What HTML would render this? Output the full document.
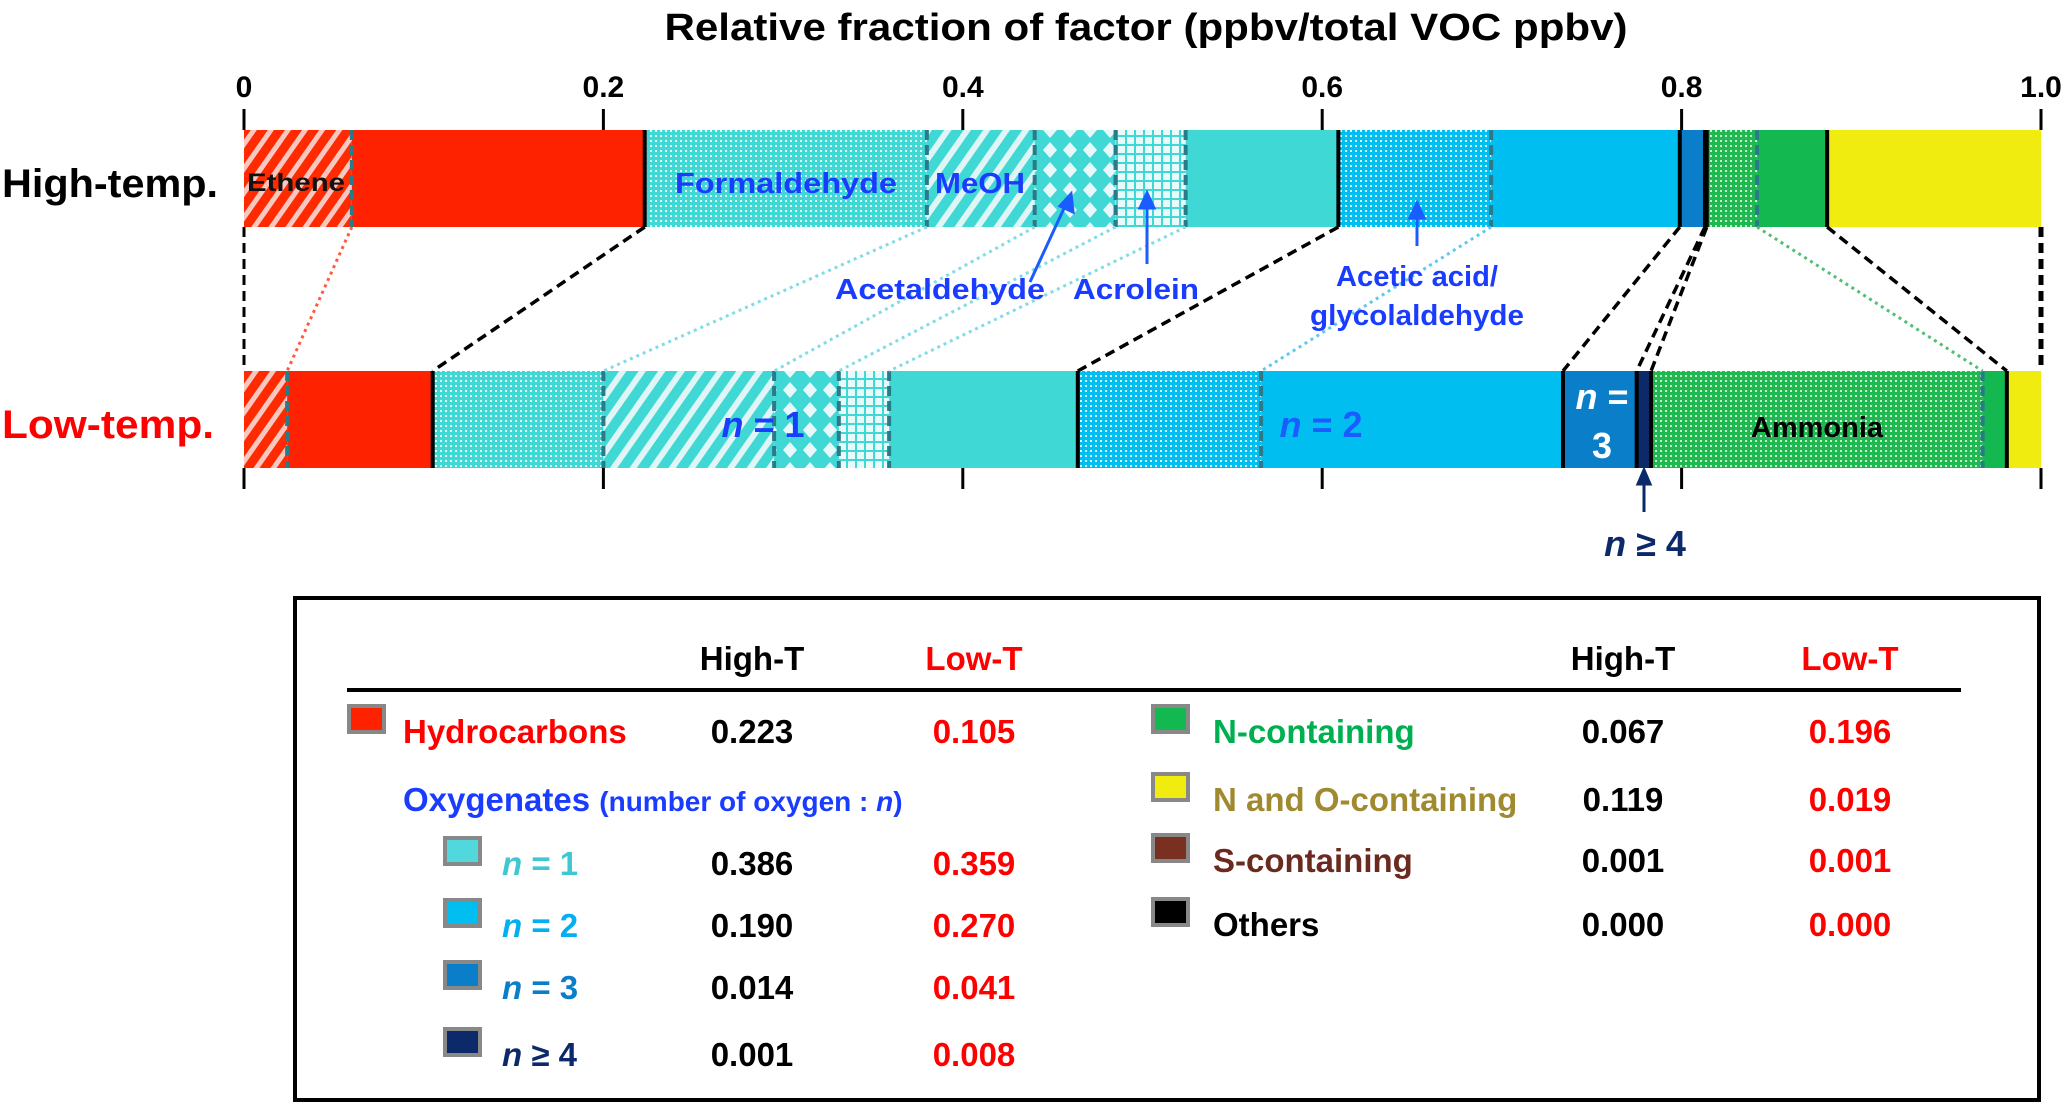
<!DOCTYPE html>
<html><head><meta charset="utf-8"><style>
html,body{margin:0;padding:0;background:#fff;}
svg{display:block;font-family:"Liberation Sans",sans-serif;font-weight:bold;}
</style></head><body>
<svg id="chart" width="2067" height="1107" viewBox="0 0 2067 1107" xmlns="http://www.w3.org/2000/svg">
<defs>
<pattern id="p-ethene" patternUnits="userSpaceOnUse" width="14" height="14" patternTransform="rotate(35)"><rect width="14" height="14" fill="#ff2a00"/><rect width="5" height="14" fill="#f8c8c0"/></pattern>
<pattern id="p-meoh" patternUnits="userSpaceOnUse" width="16" height="16" patternTransform="rotate(35)"><rect width="16" height="16" fill="#40d8d4"/><rect width="6" height="16" fill="#e0f6f6"/></pattern>
<pattern id="p-dot-teal" patternUnits="userSpaceOnUse" width="5" height="5"><rect width="5" height="5" fill="#40d8d4"/><rect width="2" height="2" fill="#e0f8f8"/></pattern>
<pattern id="p-dot-blue" patternUnits="userSpaceOnUse" width="5" height="5"><rect width="5" height="5" fill="#00bff0"/><rect width="2" height="2" fill="#d8f2fc"/></pattern>
<pattern id="p-dot-green" patternUnits="userSpaceOnUse" width="5" height="5"><rect width="5" height="5" fill="#20b850"/><rect width="2" height="2" fill="#c8f0d0"/></pattern>
<pattern id="p-diamond" patternUnits="userSpaceOnUse" width="20" height="20"><rect width="20" height="20" fill="#40d8d4"/><path d="M10 2 L17 10 L10 18 L3 10Z" fill="#e8f8fa"/></pattern>
<pattern id="p-grid" patternUnits="userSpaceOnUse" width="9" height="9"><rect width="9" height="9" fill="#e8fafa"/><rect width="9" height="2" fill="#40d8d4"/><rect width="2" height="9" fill="#40d8d4"/></pattern>
</defs>
<g id="bars"></g>
<g id="conns"></g>
<text x="1146" y="40" font-size="38" text-anchor="middle" textLength="963" lengthAdjust="spacingAndGlyphs">Relative fraction of factor (ppbv/total VOC ppbv)</text>
<text x="2" y="197" font-size="40" textLength="216" lengthAdjust="spacingAndGlyphs">High-temp.</text>
<text x="2" y="438" font-size="40" fill="#ff0000" textLength="212" lengthAdjust="spacingAndGlyphs">Low-temp.</text>
<text x="247" y="191" font-size="25" fill="#111" textLength="98" lengthAdjust="spacingAndGlyphs">Ethene</text>
<g fill="#1a3cff" font-size="29">
<text x="786" y="193" text-anchor="middle" textLength="222" lengthAdjust="spacingAndGlyphs">Formaldehyde</text>
<text x="980" y="193" text-anchor="middle" textLength="90" lengthAdjust="spacingAndGlyphs">MeOH</text>
<text x="940" y="299" text-anchor="middle" textLength="210" lengthAdjust="spacingAndGlyphs">Acetaldehyde</text>
<text x="1136" y="299" text-anchor="middle" textLength="126" lengthAdjust="spacingAndGlyphs">Acrolein</text>
<text x="1417" y="286" text-anchor="middle" textLength="162" lengthAdjust="spacingAndGlyphs">Acetic acid/</text>
<text x="1417" y="325" text-anchor="middle" textLength="214" lengthAdjust="spacingAndGlyphs">glycolaldehyde</text>
</g>
<g stroke="#1a5cff" stroke-width="3" fill="#1a5cff">
<line x1="1030" y1="282" x2="1066" y2="204"/><path d="M1071 194 L1073 212 L1060 206Z"/>
<line x1="1147" y1="264" x2="1147" y2="204"/><path d="M1147 193 L1154 208 L1140 208Z"/>
<line x1="1417" y1="246" x2="1417" y2="214"/><path d="M1417 203 L1424 218 L1410 218Z"/>
</g>
<g stroke="#0c2a6a" stroke-width="3" fill="#0c2a6a">
<line x1="1644" y1="512" x2="1644" y2="480"/><path d="M1644 470 L1650 484 L1638 484Z"/>
</g>
<g font-size="36">
<text x="763" y="437" text-anchor="middle" fill="#1a3cff"><tspan font-style="italic">n</tspan> = 1</text>
<text x="1321" y="437" text-anchor="middle" fill="#1a5cff"><tspan font-style="italic">n</tspan> = 2</text>
<text x="1602" y="409" text-anchor="middle" fill="#fff"><tspan font-style="italic">n</tspan> =</text>
<text x="1602" y="458" text-anchor="middle" fill="#fff">3</text>
<text x="1817" y="437" text-anchor="middle" font-size="29" fill="#000">Ammonia</text>
<text x="1645" y="556" text-anchor="middle" fill="#0c2a6a"><tspan font-style="italic">n</tspan> ≥ 4</text>
</g>
<!-- legend -->
<rect x="295" y="598" width="1744" height="502" fill="none" stroke="#000" stroke-width="4"/>
<line x1="347" y1="690" x2="1961" y2="690" stroke="#000" stroke-width="4"/>
<g id="legend" font-size="33"></g>
</svg>
<script>
const segments = ['ethene','hydrocarbons-other','formaldehyde','meoh','acetaldehyde','acrolein','n1-other','acetic-acid','n2-other','n3','n4','ammonia','n-other','n-and-o'];
const highValues = [0.06,0.163,0.157,0.06,0.045,0.039,0.085,0.085,0.105,0.014,0.001,0.028,0.039,0.119];
const lowValues = [0.024,0.081,0.095,0.095,0.036,0.028,0.105,0.102,0.168,0.041,0.008,0.1845,0.0135,0.019];
const tickLabels = ['0','0.2','0.4','0.6','0.8','1.0'];
const tickValues = [0,0.2,0.4,0.6,0.8,1.0];
const legendNames = ['Hydrocarbons','n = 1','n = 2','n = 3','n ≥ 4','N-containing','N and O-containing','S-containing','Others'];
const legendHigh = ['0.223','0.386','0.190','0.014','0.001','0.067','0.119','0.001','0.000'];
const legendLow = ['0.105','0.359','0.270','0.041','0.008','0.196','0.019','0.001','0.000'];

const fills = ['url(#p-ethene)','#ff2200','url(#p-dot-teal)','url(#p-meoh)','url(#p-diamond)','url(#p-grid)','#40d8d4','url(#p-dot-blue)','#00bff0','#0a7ec8','#0c2a6a','url(#p-dot-green)','#14b850','#f0ec10'];
const sepSolid = [0,1,0,0,0,0,1,0,1,1,1,0,1,0];
const connStyle = ['red','black','teal','teal','teal','teal','black','blue','black','black','black','green','black','black'];
const NS='http://www.w3.org/2000/svg';
const X0=244, XW=1797;
const x = v => X0 + v*XW;
const HY=130, LY=371, BH=97;
function mk(tag, attrs, parent){const e=document.createElementNS(NS,tag);for(const k in attrs)e.setAttribute(k,attrs[k]);parent.appendChild(e);return e;}
const bars=document.getElementById('bars'), conns=document.getElementById('conns');
function drawBar(vals, y, tag){
  let c=0; const ends=[];
  vals.forEach((v,i)=>{
    const r=mk('rect',{x:x(c),y:y,width:Math.max(v*XW,0.5),height:BH,fill:fills[i]},bars);
    
    
    c+=v; ends.push(c);
  });
  ends.forEach((e,i)=>{
    if(i===ends.length-1) return;
    const l=mk('line',{x1:x(e),x2:x(e),y1:y,y2:y+BH},bars);
    if(sepSolid[i]){l.setAttribute('stroke','#000');l.setAttribute('stroke-width','4');}
    else{l.setAttribute('stroke','#2a7a8a');l.setAttribute('stroke-width','4');l.setAttribute('stroke-dasharray','10 5');}
  });
  return ends;
}
const he=drawBar(highValues,HY,'high'), le=drawBar(lowValues,LY,'low');
const colMap={red:'#ff5a40',teal:'#80dce6',blue:'#60c8f0',green:'#50c070',black:'#000'};
mk('line',{x1:x(0),y1:HY+BH,x2:x(0),y2:LY,stroke:'#000','stroke-width':3,'stroke-dasharray':'10 6'},conns);
he.forEach((h,i)=>{
  const s=connStyle[i];
  const l=mk('line',{x1:x(h),y1:HY+BH,x2:x(i===he.length-1?1:le[i]),y2:LY,stroke:colMap[s]},conns);
  if(s==='black'){l.setAttribute('stroke-width',i===he.length-1?5:3.5);l.setAttribute('stroke-dasharray','10 6');}
  else{l.setAttribute('stroke-width',3);l.setAttribute('stroke-dasharray','3 4');}
});
const axisG=mk('g',{},bars);
tickValues.forEach((t,i)=>{
  mk('line',{x1:x(t),x2:x(t),y1:109,y2:HY,stroke:'#000','stroke-width':3},axisG);
  mk('line',{x1:x(t),x2:x(t),y1:LY+BH,y2:489,stroke:'#000','stroke-width':3},axisG);
  const tx=mk('text',{x:x(t),y:97,'font-size':30,'text-anchor':'middle'},axisG);
  
  
  tx.textContent=tickLabels[i];
});
const lg=document.getElementById('legend');
function txt(s,xx,yy,fill,anchor,extra){const t=mk('text',Object.assign({x:xx,y:yy,fill:fill,'text-anchor':anchor||'start'},extra||{}),lg);t.textContent=s;return t;}
[[752,'High-T','#000'],[974,'Low-T','#ff0000'],[1623,'High-T','#000'],[1850,'Low-T','#ff0000']].forEach(h=>{
  const t=txt(h[1],h[0],670,h[2],'middle');
  
  
});
const rows=[[347,403,732,'#ff2200','#ff0000'],[443,502,864,'#50d8dc','#40c8d0'],[443,502,926,'#00bff0','#00b0f0'],[443,502,988,'#0a7ec8','#0a7ec8'],[443,502,1055,'#0c2a6a','#0c2a6a'],
 [1151,1213,732,'#14b850','#00b050'],[1151,1213,800,'#f0ec10','#a08a30'],[1151,1213,861,'#7a3020','#6b2a20'],[1151,1213,925,'#000','#000']];
rows.forEach((r,i)=>{
  const right=i>=5;
  mk('rect',{x:r[0]+2,y:r[2]-26,width:35,height:26,fill:r[3],stroke:'#888','stroke-width':4},lg);
  let t;
  if(legendNames[i].startsWith('n ')){
    t=mk('text',{x:r[1],y:r[2]+11,fill:r[4]},lg);
    const s1=mk('tspan',{'font-style':'italic'},t); s1.textContent='n';
    const s2=mk('tspan',{},t); s2.textContent=legendNames[i].slice(1);
  } else t=txt(legendNames[i],r[1],r[2]+11,r[4]);
  
  
  const a=txt(legendHigh[i],right?1623:752,r[2]+11,'#000','middle');
  
  
  const b=txt(legendLow[i],right?1850:974,r[2]+11,'#ff0000','middle');
  
  
});
const ox=mk('text',{x:403,y:811,fill:'#1a3cff'},lg);


const o1=mk('tspan',{},ox);o1.textContent='Oxygenates ';
const o2=mk('tspan',{'font-size':28},ox);o2.textContent='(number of oxygen : ';
const o3=mk('tspan',{'font-size':28,'font-style':'italic'},ox);o3.textContent='n';
const o4=mk('tspan',{'font-size':28},ox);o4.textContent=')';
</script>
</body></html>
